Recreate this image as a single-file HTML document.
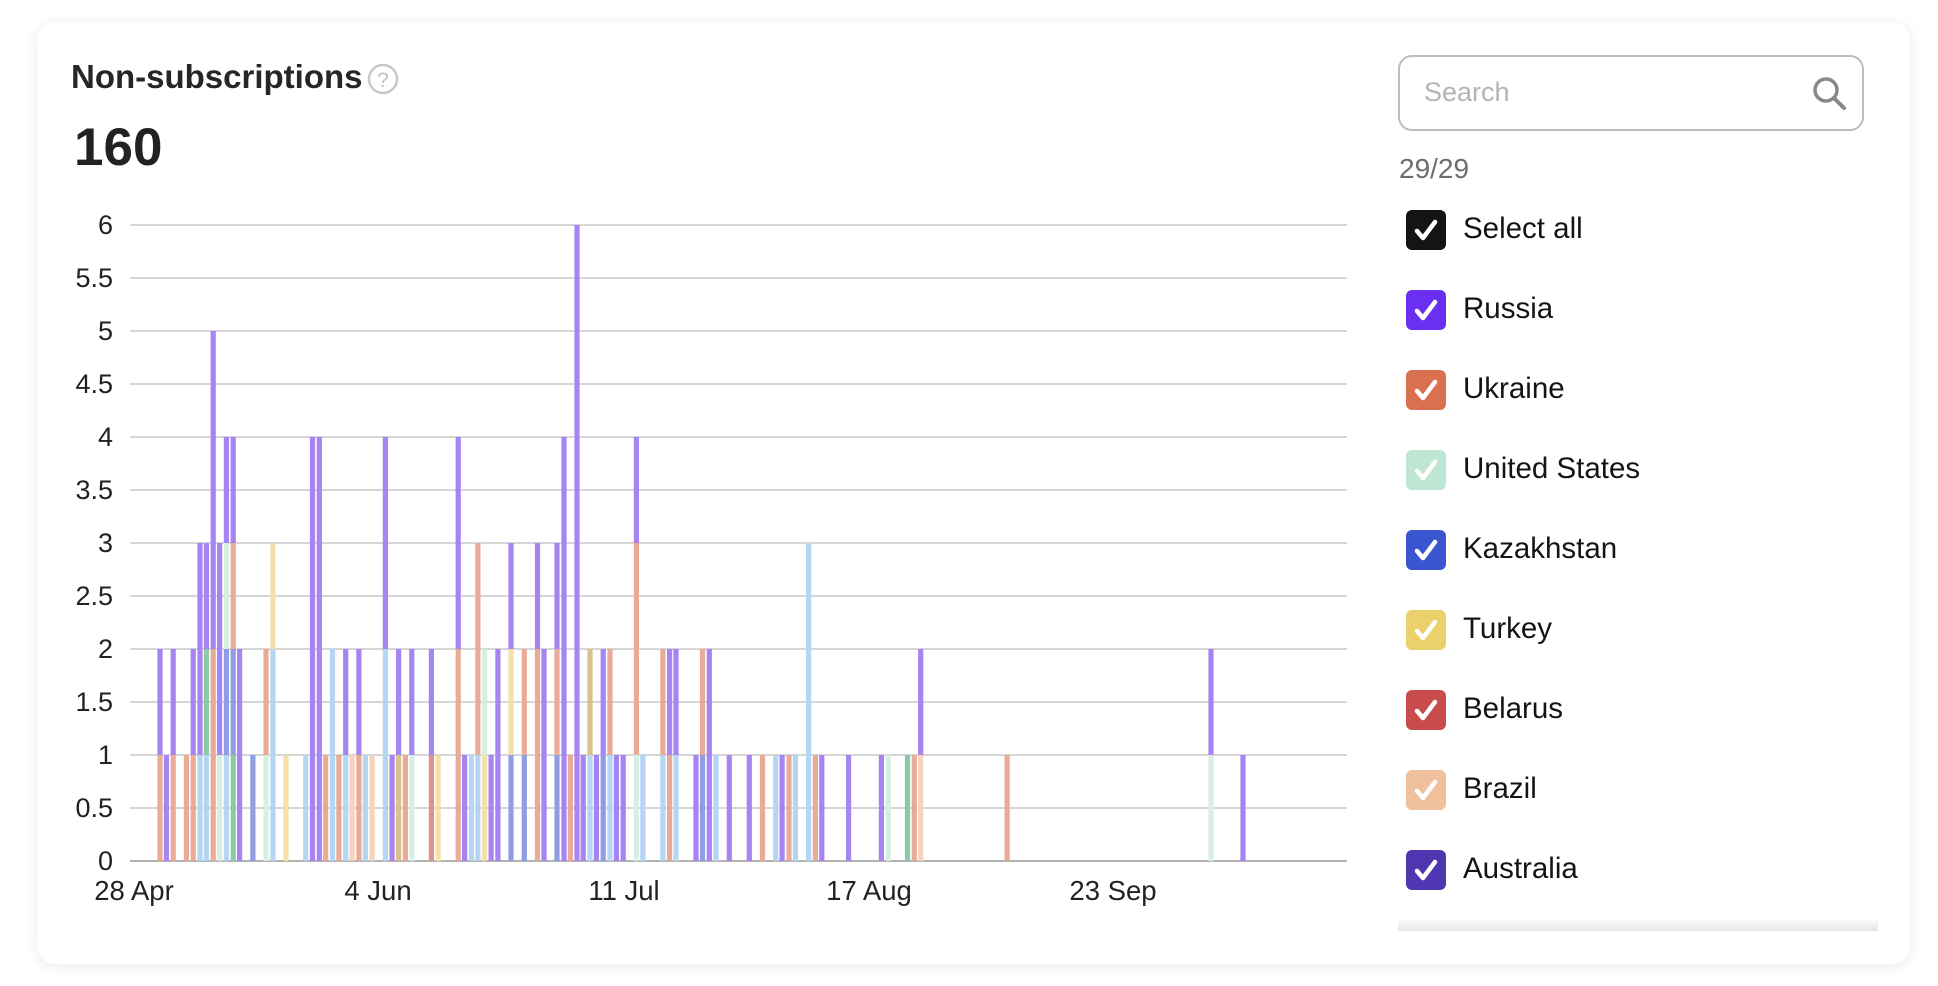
<!DOCTYPE html>
<html><head><meta charset="utf-8"><style>
body{margin:0;width:1938px;height:986px;background:#fff;font-family:"Liberation Sans",sans-serif;overflow:hidden;position:relative}
.card{position:absolute;left:37px;top:22px;width:1873px;height:942px;border-radius:18px;background:#fff;box-shadow:0 2px 14px rgba(0,0,0,0.09)}
.t{position:absolute;color:#222}
.cb{position:absolute;left:1406px;width:40px;height:40px;border-radius:6px}
.cb svg{position:absolute;left:0;top:0}
.lbl{position:absolute;left:1463px;font-size:29.5px;color:#141414}
</style></head><body>
<div class="card"></div>
<div class="t" style="left:71px;top:58px;font-size:33px;font-weight:bold;color:#262626">Non-subscriptions</div>
<svg style="position:absolute;left:366px;top:62px" width="34" height="34"><circle cx="17" cy="17" r="14" fill="none" stroke="#c8c8c8" stroke-width="2.5"/><text x="17" y="25" text-anchor="middle" font-size="21" fill="#c0c0c0" font-family="Liberation Sans">?</text></svg>
<div class="t" style="left:74px;top:117px;font-size:53px;font-weight:bold;color:#222">160</div>
<svg id="ch" style="position:absolute;left:0;top:0" width="1938" height="986"></svg>
<div style="position:absolute;left:1398px;top:55px;width:466px;height:76px;border:2px solid #bdbdbd;border-radius:14px;box-sizing:border-box"></div>
<div class="t" style="left:1424px;top:77px;font-size:27px;color:#b4b4b4">Search</div>
<svg style="position:absolute;left:1810px;top:74px" width="40" height="40"><circle cx="16" cy="16" r="11" fill="none" stroke="#888" stroke-width="3.5"/><line x1="24" y1="24" x2="34" y2="34" stroke="#888" stroke-width="4" stroke-linecap="round"/></svg>
<div class="t" style="left:1399px;top:153px;font-size:28px;color:#6e6e6e">29/29</div>
<div id="lg"></div>
<div style="position:absolute;left:1398px;top:918px;width:480px;height:13px;background:linear-gradient(#fff,#e6e6e6)"></div>
<script>
var C={P:"#a684f2",O:"#e8ab98",LB:"#b4d6f2",LG:"#d6efe0",B:"#8f9ee0",Y:"#f4e1aa",G:"#8ec9a7",PE:"#f6d2bf",T:"#d9c08e",R:"#e0918f"};
var D=[[160,"O1P1"],[166.4,"P1"],[173.2,"O1P1"],[186.4,"O1"],[193.2,"O1P1"],[200,"LB1P2"],[206.4,"LB1G1P1"],[213.2,"O2P3"],[219.6,"LG1P2"],[226.4,"LB1B1LG1P1"],[233.2,"G1B1O1P1"],[239.6,"P2"],[252.9,"B1"],[266,"LG1O1"],[272.9,"LB2Y1"],[286,"Y1"],[305.7,"LB1"],[312.5,"P4"],[319.3,"P4"],[325.7,"O1"],[332.5,"LB2"],[338.9,"O1"],[345.7,"LB1P1"],[352.1,"PE1"],[358.9,"O1P1"],[365.4,"LB1"],[372.1,"PE1"],[385.4,"LB2P2"],[392.1,"P1"],[398.6,"T1P1"],[405.4,"O1"],[411.8,"LG1P1"],[431.4,"R1P1"],[438.2,"Y1"],[458.2,"O2P2"],[464.6,"P1"],[471.4,"LB1"],[477.9,"LB1O2"],[484.6,"Y1LG1"],[491.1,"P1"],[497.9,"P2"],[511,"B1Y1P1"],[524.3,"B1O1"],[537.5,"O2P1"],[544,"P2"],[557,"B1O1P1"],[564,"P4"],[570.4,"O1"],[577,"P6"],[583.2,"P1"],[590,"LB1T1"],[596.4,"P1"],[603.2,"B1P1"],[610,"LB1O1"],[616.4,"P1"],[623.2,"P1"],[636.4,"LG1O2P1"],[642.9,"LB1"],[662.9,"LB1O1"],[669.6,"O1P1"],[676,"LB1P1"],[696,"P1"],[702.5,"B1O1"],[709.3,"P2"],[716,"LB1"],[729.3,"P1"],[749.3,"P1"],[762.5,"O1"],[775.7,"LB1"],[782.1,"P1"],[789,"O1"],[795.4,"LB1"],[808.6,"LB3"],[815.4,"O1"],[821.8,"P1"],[848.6,"P1"],[881.4,"P1"],[888.2,"LG1"],[907.5,"G1"],[914.3,"O1"],[920.7,"PE1P1"],[1007.1,"O1"],[1211,"LG1P1"],[1243,"P1"]];
var s="",Y0=861,U=106;
for(var v=0;v<=12;v++){var y=Y0-v*53;s+='<line x1="130" x2="1347" y1="'+y+'" y2="'+y+'" stroke="'+(v?"#c9c9c9":"#9a9a9a")+'" stroke-width="1.6"/>';
var lab=(v/2)+"";s+='<text x="113" y="'+(y+9)+'" text-anchor="end" font-size="27" fill="#222" font-family="Liberation Sans">'+lab+'</text>';}
D.forEach(function(d){var re=/([A-Z]+)(\d)/g,m,b=0;while(m=re.exec(d[1])){var h=+m[2]*U;s+='<rect x="'+(d[0]-2.6)+'" y="'+(Y0-b-h)+'" width="5.2" height="'+h+'" fill="'+C[m[1]]+'"/>';b+=h;}});
[["28 Apr",134],["4 Jun",378],["11 Jul",624],["17 Aug",869],["23 Sep",1113]].forEach(function(t){s+='<text x="'+t[1]+'" y="900" text-anchor="middle" font-size="27.5" fill="#222" font-family="Liberation Sans">'+t[0]+'</text>';});
document.getElementById("ch").innerHTML=s;
var L=[["Select all","#141414"],["Russia","#6a2ff0"],["Ukraine","#d9704f"],["United States","#bfe6d2"],["Kazakhstan","#3a55d0"],["Turkey","#ecd06c"],["Belarus","#c84c4c"],["Brazil","#f0c09c"],["Australia","#4e37b0"]],h="";
L.forEach(function(l,i){var y=210+i*80;h+='<div class="cb" style="top:'+y+'px;background:'+l[1]+'"><svg width="40" height="40"><path d="M11 21 L17 28 L29 12" fill="none" stroke="#fff" stroke-width="4.5" stroke-linecap="round" stroke-linejoin="round"/></svg></div><div class="lbl" style="top:'+(y+2)+'px">'+l[0]+'</div>';});
document.getElementById("lg").innerHTML=h;
</script>
</body></html>
